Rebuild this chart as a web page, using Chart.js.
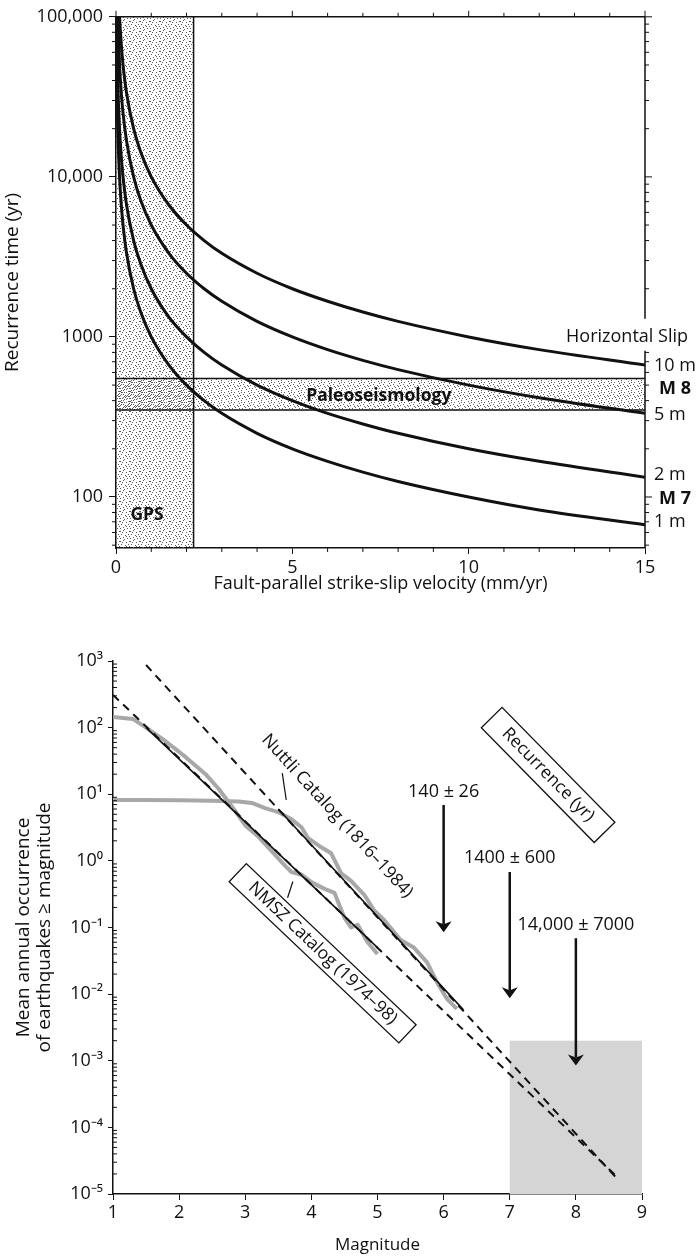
<!DOCTYPE html>
<html>
<head>
<meta charset="utf-8">
<script src="https://cdn.jsdelivr.net/npm/chart.js@4.4.1/dist/chart.umd.min.js"></script>
<style>
  body { margin: 0; background: #fff; }
  #wrapTop { position: absolute; left: 0; top: 0; }
  #wrapBot { position: absolute; left: 0; top: 620px; }
</style>
</head>
<body>
<div id="wrapTop"><canvas id="topChart" width="697" height="600"></canvas></div>
<div id="wrapBot"><canvas id="botChart" width="697" height="639"></canvas></div>
<script>
// ---- top panel: recurrence time vs slip rate ----
const VEL = [0.01, 0.02, 0.05, 0.1, 0.15, 0.2, 0.3, 0.5, 0.7, 1, 1.5, 2, 2.5, 3, 4, 5, 6, 7, 8, 10, 12, 15]
const REC_10M = [null, null, null, 100000, 66700, 50000, 33300, 20000, 14300, 10000, 6670, 5000, 4000, 3330, 2500, 2000, 1670, 1430, 1250, 1000, 833, 667]
const REC_5M  = [null, null, 100000, 50000, 33300, 25000, 16700, 10000, 7140, 5000, 3330, 2500, 2000, 1670, 1250, 1000, 833, 714, 625, 500, 417, 333]
const REC_2M  = [null, 100000, 40000, 20000, 13300, 10000, 6670, 4000, 2860, 2000, 1330, 1000, 800, 667, 500, 400, 333, 286, 250, 200, 167, 133]
const REC_1M  = [100000, 50000, 20000, 10000, 6670, 5000, 3330, 2000, 1430, 1000, 667, 500, 400, 333, 250, 200, 167, 143, 125, 100, 83, 67]

const REC_TICKS = [100, 1000, 10000, 100000]
const GPS_MAX = 2.2                 // mm/yr
const PALEO_RANGE = [350, 550]      // yr

// right-hand labels (value on the recurrence axis)
const SLIP_LABELS = ["10 m", "M 8", "5 m", "2 m", "M 7", "1 m"]
const SLIP_LABEL_Y = [660, 475, 325, 137, 98, 70]
const HSLIP_Y = 1000

// ---- bottom panel: magnitude-frequency ----
const NMSZ_M = [1.0, 1.3, 1.5, 1.8, 2.1, 2.4, 2.6, 2.8, 3.0, 3.2, 3.4, 3.6, 3.7, 3.85, 4.0, 4.2, 4.35, 4.5, 4.6, 4.7, 4.85, 5.0]
const NMSZ_N = [145, 135, 100, 62, 36, 20, 12, 6.5, 3.4, 2.3, 1.4, 0.85, 0.68, 0.62, 0.48, 0.38, 0.33, 0.14, 0.1, 0.11, 0.06, 0.04]
const NUTTLI_M = [1.0, 1.5, 2.0, 2.5, 2.9, 3.1, 3.3, 3.5, 3.7, 3.85, 3.95, 4.15, 4.3, 4.45, 4.6, 4.8, 4.95, 5.1, 5.35, 5.55, 5.75, 5.9, 6.05, 6.2]
const NUTTLI_N = [8.2, 8.2, 8.1, 8.0, 7.8, 7.4, 6.2, 5.4, 4.2, 3.2, 2.2, 1.6, 1.3, 0.65, 0.5, 0.31, 0.18, 0.13, 0.065, 0.05, 0.03, 0.015, 0.0085, 0.006]

const UPPER_FIT_M = [1.5, 8.6],  UPPER_FIT_N = [870, 1.8e-5]
const UPPER_SOLID_M = [3.5, 6.3], UPPER_SOLID_N = [6.0, 0.0058]
const LOWER_FIT_M = [1.0, 8.6],  LOWER_FIT_N = [310, 1.9e-5]
const LOWER_SOLID_M = [1.5, 5.0], LOWER_SOLID_N = [100, 0.05]

const OCC_TICKS = [1e-5, 1e-4, 1e-3, 1e-2, 1e-1, 1, 10, 100, 1000]

// recurrence arrows: magnitude, label, label y, arrow top, arrow tip
const ARROW_M = [6, 7, 8]
const ARROW_LABELS = ["140 ± 26", "1400 ± 600", "14,000 ± 7000"]
const ARROW_LABEL_N = [10.8, 1.1, 0.11]
const ARROW_TOP_N = [6.9, 0.68, 0.069]
const ARROW_TIP_N = [0.085, 0.0087, 0.00085]

const SHADE_M = [7, 9], SHADE_N = [1e-5, 2e-3]

const INK = "#111"
const FONT = "'Open Sans', sans-serif"
Chart.defaults.font.family = FONT
Chart.defaults.color = INK

const pts = (xs, ys) => xs.map((x, i) => ({ x, y: ys[i] }))

function logMinors(lo, hi) {
  const out = []
  for (let d = 1e-6; d < hi; d *= 10)
    for (let k = 2; k <= 9; k++) {
      const v = d * k
      if (v > lo && v < hi) out.push(v)
    }
  return out
}

function stipple(ctx, dots) {
  const c = document.createElement("canvas")
  c.width = c.height = 10
  const g = c.getContext("2d")
  g.fillStyle = "#5a5a5a"
  dots.forEach(([dx, dy]) => g.fillRect(dx, dy, 1, 1))
  return ctx.createPattern(c, "repeat")
}
const DOTS_A = [[0,1],[3,0],[6,2],[9,1],[1,4],[5,5],[8,4],[3,7],[7,8],[0,8],[4,9],[9,6],[2,2],[6,6]]
const DOTS_B = [[1,0],[4,2],[8,1],[0,5],[3,4],[7,5],[2,8],[5,7],[9,8],[6,9],[1,2],[8,6],[4,6],[9,3]]

function vline(ctx, x, y0, y1) { ctx.moveTo(x, y0); ctx.lineTo(x, y1) }
function hline(ctx, y, x0, x1) { ctx.moveTo(x0, y); ctx.lineTo(x1, y) }

const topDecor = {
  id: "topDecor",
  beforeDatasetsDraw(chart) {
    const { ctx, chartArea: a, scales: { x, y } } = chart
    const gx = x.getPixelForValue(GPS_MAX)
    const pTop = y.getPixelForValue(PALEO_RANGE[1])
    const pBot = y.getPixelForValue(PALEO_RANGE[0])
    ctx.save()
    ctx.fillStyle = stipple(ctx, DOTS_A)
    ctx.fillRect(a.left, a.top, gx - a.left, a.bottom - a.top)
    ctx.fillStyle = stipple(ctx, DOTS_B)
    ctx.fillRect(a.left, pTop, a.right - a.left, pBot - pTop)
    ctx.strokeStyle = INK
    ctx.lineWidth = 1.5
    ctx.beginPath()
    vline(ctx, gx, a.top, a.bottom)
    hline(ctx, pTop, a.left, a.right)
    hline(ctx, pBot, a.left, a.right)
    ctx.stroke()
    ctx.restore()
  },
  afterDraw(chart) {
    const { ctx, chartArea: a, scales: { x, y } } = chart
    ctx.save()
    ctx.strokeStyle = INK
    ctx.lineWidth = 1.5
    // frame top + right (right side broken for the "Horizontal Slip" caption)
    const gapTop = y.getPixelForValue(1300), gapBot = y.getPixelForValue(820)
    ctx.beginPath()
    hline(ctx, a.top, a.left, a.right)
    vline(ctx, a.right, a.top, gapTop)
    vline(ctx, a.right, gapBot, a.bottom)
    ctx.stroke()

    ctx.lineWidth = 1
    ctx.beginPath()
    // top and bottom x ticks
    for (let v = 0; v <= 15; v++) {
      const px = x.getPixelForValue(v)
      const major = v % 5 === 0
      vline(ctx, px, a.top, a.top - (major ? 6 : 4))
      if (!major) vline(ctx, px, a.bottom, a.bottom + 4)
    }
    // left minor ticks, right ticks
    const minors = logMinors(48, 100000)
    minors.forEach(v => {
      const py = y.getPixelForValue(v)
      hline(ctx, py, a.left, a.left - 4)
      if (py < gapTop - 1 || py > gapBot + 1) hline(ctx, py, a.right, a.right + 4)
    })
    REC_TICKS.forEach(v => {
      const py = y.getPixelForValue(v)
      if (py < gapTop - 1 || py > gapBot + 1) hline(ctx, py, a.right, a.right + 7)
    })
    ctx.stroke()

    // texts
    ctx.fillStyle = INK
    ctx.textBaseline = "middle"
    ctx.textAlign = "center"
    ctx.font = "bold 17.5px " + FONT
    ctx.fillText("Paleoseismology", x.getPixelForValue(7.45), y.getPixelForValue(430))
    ctx.fillText("GPS", x.getPixelForValue(0.88), y.getPixelForValue(77))

    ctx.textAlign = "left"
    SLIP_LABELS.forEach((t, i) => {
      ctx.font = (t.startsWith("M") ? "bold " : "") + "18px " + FONT
      ctx.fillText(t, a.right + (t.startsWith("M") ? 14 : 9), y.getPixelForValue(SLIP_LABEL_Y[i]))
    })
    ctx.textAlign = "right"
    ctx.font = "18px " + FONT
    ctx.fillText("Horizontal Slip", a.right + 43, y.getPixelForValue(HSLIP_Y))
    ctx.restore()
  }
}

const curveStyle = { borderColor: INK, borderWidth: 3, pointRadius: 0, cubicInterpolationMode: "monotone", spanGaps: false }

new Chart(document.getElementById("topChart"), {
  type: "line",
  data: {
    datasets: [REC_10M, REC_5M, REC_2M, REC_1M].map(r => ({ ...curveStyle, data: pts(VEL, r) }))
  },
  options: {
    responsive: false,
    animation: false,
    layout: { padding: { top: 14, right: 52, left: 0, bottom: 0 } },
    plugins: { legend: { display: false }, tooltip: { enabled: false } },
    scales: {
      x: {
        type: "linear",
        min: 0, max: 15,
        ticks: { stepSize: 5, font: { size: 18 }, padding: 3 },
        grid: { drawOnChartArea: false, tickLength: 6, color: INK },
        border: { color: INK, width: 1.5 },
        title: { display: true, text: "Fault-parallel strike-slip velocity (mm/yr)", font: { size: 18 }, padding: { top: 0, bottom: 5 } },
        afterFit: s => { s.height = 52 },
      },
      y: {
        type: "logarithmic",
        min: 48, max: 100000,
        afterBuildTicks: s => { s.ticks = REC_TICKS.map(v => ({ value: v })) },
        ticks: {
          font: { size: 18 }, padding: 6,
          callback: v => (v >= 10000 ? v.toLocaleString("en-US") : String(v)),
        },
        grid: { drawOnChartArea: false, tickLength: 7, color: INK },
        border: { color: INK, width: 1.5 },
        title: { display: true, text: "Recurrence time (yr)", font: { size: 19 }, padding: { top: 1, bottom: 0 } },
        afterFit: s => { s.width = 116 },
      },
    },
  },
  plugins: [topDecor],
})

// ---- bottom chart ----
const SUP = { "-": "⁻", "0": "⁰", "1": "¹", "2": "²", "3": "³", "4": "⁴", "5": "⁵" }
const pow10Label = v => "10" + String(Math.round(Math.log10(v))).split("").map(c => SUP[c]).join("")

function rotText(ctx, text, cx, cy, deg, box) {
  ctx.save()
  ctx.translate(cx, cy)
  ctx.rotate(deg * Math.PI / 180)
  ctx.textAlign = "center"
  ctx.textBaseline = "middle"
  ctx.fillText(text, 0, 0)
  if (box) {
    ctx.lineWidth = 1.3
    ctx.strokeRect(-box[0] / 2, -box[1] / 2, box[0], box[1])
  }
  ctx.restore()
}

const botDecor = {
  id: "botDecor",
  beforeDatasetsDraw(chart) {
    const { ctx, scales: { x, y } } = chart
    const x0 = x.getPixelForValue(SHADE_M[0]), x1 = x.getPixelForValue(SHADE_M[1])
    const y0 = y.getPixelForValue(SHADE_N[1]), y1 = y.getPixelForValue(SHADE_N[0])
    ctx.save()
    ctx.fillStyle = "#d5d5d5"
    ctx.fillRect(x0, y0, x1 - x0, y1 - y0)
    ctx.restore()
  },
  afterDatasetsDraw(chart) {
    const { ctx, chartArea: a, scales: { x, y } } = chart
    ctx.save()
    ctx.strokeStyle = INK
    ctx.fillStyle = INK
    // minor ticks inside the left axis
    ctx.lineWidth = 1
    ctx.beginPath()
    logMinors(1e-5, 1000).forEach(v => hline(ctx, y.getPixelForValue(v), a.left, a.left + 4))
    ctx.stroke()

    // arrows
    ARROW_M.forEach((m, i) => {
      const px = x.getPixelForValue(m)
      const top = y.getPixelForValue(ARROW_TOP_N[i])
      const tip = y.getPixelForValue(ARROW_TIP_N[i])
      ctx.lineWidth = 2.5
      ctx.beginPath()
      vline(ctx, px, top, tip - 8)
      ctx.stroke()
      ctx.beginPath()
      ctx.moveTo(px - 8, tip - 11)
      ctx.lineTo(px, tip - 8)
      ctx.lineTo(px + 8, tip - 11)
      ctx.lineTo(px, tip)
      ctx.closePath()
      ctx.fill()
      ctx.font = "18px " + FONT
      ctx.textAlign = "center"
      ctx.textBaseline = "middle"
      ctx.fillText(ARROW_LABELS[i], px, y.getPixelForValue(ARROW_LABEL_N[i]))
    })

    // leader lines
    ctx.lineWidth = 1.2
    ctx.beginPath()
    ctx.moveTo(x.getPixelForValue(3.56), y.getPixelForValue(20.8))
    ctx.lineTo(x.getPixelForValue(3.62), y.getPixelForValue(8.2))
    ctx.moveTo(x.getPixelForValue(3.72), y.getPixelForValue(0.49))
    ctx.lineTo(x.getPixelForValue(3.64), y.getPixelForValue(0.28))
    ctx.stroke()

    // rotated labels
    ctx.font = "17.5px " + FONT
    rotText(ctx, "Nuttli Catalog (1816–1984)", x.getPixelForValue(4.39), y.getPixelForValue(4.7), 47.5)
    rotText(ctx, "NMSZ Catalog (1974–98)", x.getPixelForValue(4.17), y.getPixelForValue(0.041), 43.5, [234, 25])
    rotText(ctx, "Recurrence (yr)", x.getPixelForValue(7.58), y.getPixelForValue(19.5), 45.5, [161, 29])
    ctx.restore()
  }
}

const dashed = { borderColor: INK, borderWidth: 2, borderDash: [8, 6], pointRadius: 0 }
const solid = { borderColor: INK, borderWidth: 1.6, pointRadius: 0 }
const catalog = { borderColor: "#a8a8a8", borderWidth: 4, pointRadius: 0, borderJoinStyle: "round" }

new Chart(document.getElementById("botChart"), {
  type: "line",
  data: {
    datasets: [
      { ...solid, data: pts(UPPER_SOLID_M, UPPER_SOLID_N) },
      { ...solid, data: pts(LOWER_SOLID_M, LOWER_SOLID_N) },
      { ...dashed, data: pts(UPPER_FIT_M, UPPER_FIT_N) },
      { ...dashed, data: pts(LOWER_FIT_M, LOWER_FIT_N) },
      { ...catalog, data: pts(NUTTLI_M, NUTTLI_N) },
      { ...catalog, data: pts(NMSZ_M, NMSZ_N) },
    ],
  },
  options: {
    responsive: false,
    animation: false,
    layout: { padding: { top: 41, right: 55, left: 0, bottom: 0 } },
    plugins: { legend: { display: false }, tooltip: { enabled: false } },
    scales: {
      x: {
        type: "linear",
        min: 1, max: 9,
        ticks: { stepSize: 1, font: { size: 18 }, padding: 2 },
        grid: { drawOnChartArea: false, tickLength: 6, color: INK },
        border: { color: INK, width: 1.5 },
        title: { display: true, text: "Magnitude", font: { size: 17 }, padding: { top: 0, bottom: 4 } },
        afterFit: s => { s.height = 65 },
      },
      y: {
        type: "logarithmic",
        min: 1e-5, max: 1000,
        afterBuildTicks: s => { s.ticks = OCC_TICKS.map(v => ({ value: v })) },
        ticks: { font: { size: 18 }, padding: 5, callback: v => pow10Label(v) },
        grid: { drawOnChartArea: false, tickLength: 5, color: INK },
        border: { color: INK, width: 1.5 },
        title: {
          display: true,
          text: ["Mean annual occurrence", "of earthquakes ≥ magnitude"],
          font: { size: 19, lineHeight: 1.12 },
          padding: { top: 13, bottom: 0 },
        },
        afterFit: s => { s.width = 113 },
      },
    },
  },
  plugins: [botDecor],
})
</script>
</body>
</html>
